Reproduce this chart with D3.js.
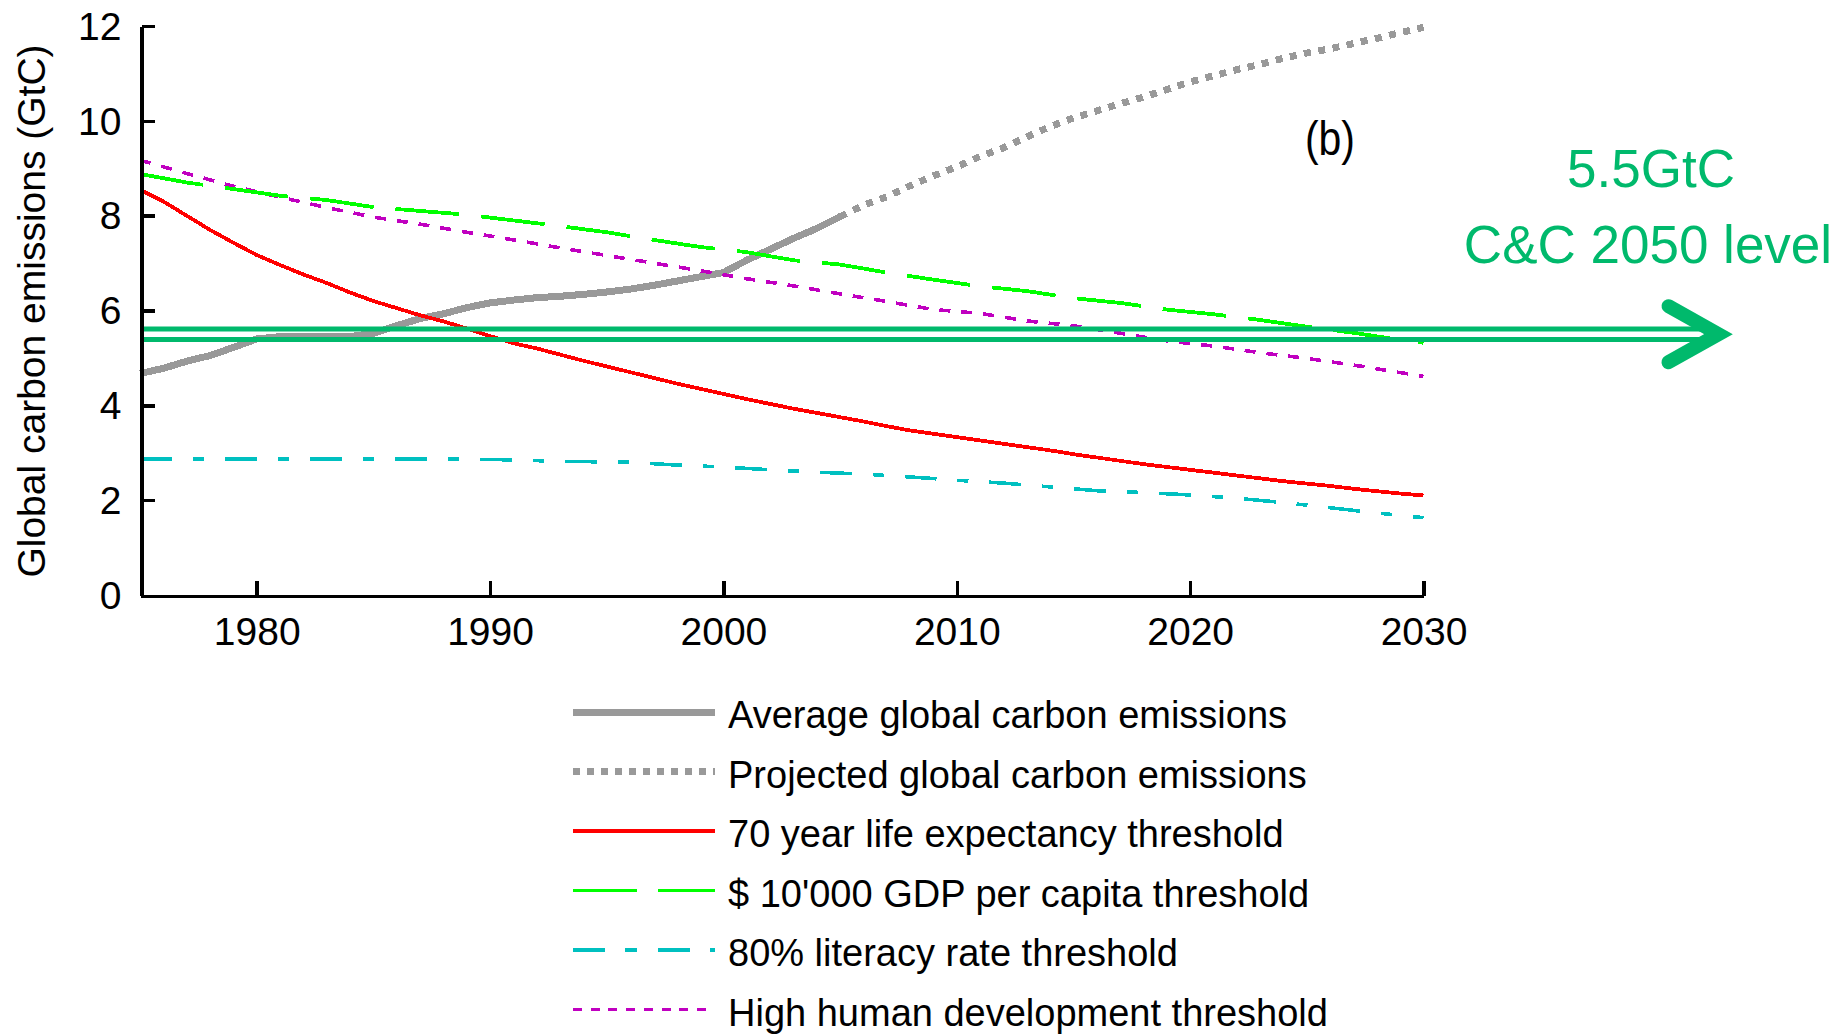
<!DOCTYPE html>
<html>
<head>
<meta charset="utf-8">
<script src="https://cdn.jsdelivr.net/npm/d3@7"></script>
<style>
  html, body { margin: 0; padding: 0; background: #ffffff; }
  svg { display: block; }
  text { font-family: "Liberation Sans", Arial, Helvetica, sans-serif; }
</style>
</head>
<body>
<svg id="chart" width="1839" height="1034"></svg>
<script>
// ---- Data (GtC per year) ----
const actualYears = [1975, 1976, 1977, 1978, 1979, 1980, 1981, 1982, 1983, 1984, 1985, 1986, 1987, 1988, 1989, 1990,
                     1991, 1992, 1993, 1994, 1995, 1996, 1997, 1998, 1999, 2000, 2001, 2002, 2003, 2004, 2005];
const actualEmissions = [4.67, 4.78, 4.93, 5.05, 5.22, 5.4, 5.45, 5.45, 5.45, 5.45, 5.52, 5.68, 5.83, 5.93, 6.06, 6.16,
                         6.22, 6.27, 6.3, 6.34, 6.39, 6.45, 6.53, 6.62, 6.71, 6.8, 7.06, 7.29, 7.52, 7.73, 7.98];

const projectedYears = [2005, 2006, 2007, 2008, 2009, 2010, 2011, 2012, 2013, 2014, 2015, 2016, 2017,
                        2018, 2019, 2020, 2021, 2022, 2023, 2024, 2025, 2026, 2027, 2028, 2029, 2030];
const projectedEmissions = [7.98, 8.22, 8.4, 8.63, 8.84, 9.03, 9.25, 9.43, 9.66, 9.88, 10.06, 10.21, 10.36,
                            10.5, 10.66, 10.82, 10.95, 11.08, 11.19, 11.32, 11.43, 11.52, 11.63, 11.74, 11.86, 11.97];

const lifeYears = [1975, 1976, 1977, 1978, 1979, 1980, 1981, 1982, 1983, 1984, 1985, 1986, 1987, 1988, 1989, 1990,
                   1991, 1992, 1993, 1994, 1995, 1996, 1997, 1998, 1999, 2000, 2001, 2002, 2003, 2004, 2005, 2006,
                   2007, 2008, 2009, 2010, 2011, 2012, 2013, 2014, 2015, 2016, 2017, 2018, 2019, 2020, 2021, 2022,
                   2023, 2024, 2025, 2026, 2027, 2028, 2029, 2030];
const lifeThreshold = [8.55, 8.3, 8.0, 7.7, 7.43, 7.17, 6.96, 6.76, 6.58, 6.38, 6.2, 6.05, 5.9, 5.77, 5.62, 5.46,
                       5.31, 5.2, 5.07, 4.94, 4.82, 4.7, 4.58, 4.46, 4.35, 4.24, 4.13, 4.03, 3.93, 3.84, 3.75, 3.66,
                       3.56, 3.47, 3.4, 3.33, 3.26, 3.19, 3.12, 3.05, 2.97, 2.9, 2.83, 2.76, 2.7, 2.64, 2.58, 2.52,
                       2.46, 2.4, 2.35, 2.3, 2.24, 2.19, 2.14, 2.1];

const gdpYears = [1975, 1977, 1979, 1981, 1983, 1985, 1987, 1989, 1991, 1993, 1995, 1997, 1999, 2001, 2003,
                  2005, 2007, 2009, 2011, 2013, 2015, 2017, 2019, 2021, 2023, 2025, 2027, 2029, 2030];
const gdpThreshold = [8.88, 8.7, 8.56, 8.42, 8.33, 8.18, 8.1, 8.02, 7.9, 7.78, 7.65, 7.49, 7.34, 7.23, 7.06,
                      6.97, 6.8, 6.65, 6.51, 6.41, 6.26, 6.16, 6.02, 5.92, 5.8, 5.66, 5.53, 5.38, 5.32];

const literacyYears = [1975, 1980, 1985, 1990, 1993, 1996, 1998, 2000, 2002, 2004, 2006, 2008,
                       2010, 2012, 2014, 2016, 2018, 2020, 2022, 2024, 2026, 2028, 2030];
const literacyThreshold = [2.87, 2.87, 2.87, 2.86, 2.82, 2.8, 2.74, 2.7, 2.64, 2.59, 2.55, 2.49,
                           2.42, 2.36, 2.28, 2.2, 2.16, 2.11, 2.04, 1.95, 1.84, 1.73, 1.63];

const hdiYears = [1975, 1977, 1979, 1981, 1983, 1985, 1987, 1989, 1991, 1993, 1995, 1997, 1999, 2001, 2003,
                  2005, 2007, 2009, 2011, 2013, 2015, 2017, 2019, 2021, 2023, 2025, 2027, 2029, 2030];
const hdiThreshold = [9.17, 8.89, 8.62, 8.39, 8.17, 7.97, 7.82, 7.65, 7.49, 7.32, 7.16, 7.0, 6.84, 6.67, 6.52,
                      6.35, 6.19, 6.02, 5.94, 5.78, 5.68, 5.52, 5.36, 5.25, 5.11, 4.99, 4.85, 4.69, 4.61];

const xTickValues = [1980, 1990, 2000, 2010, 2020, 2030];
const yTickValues = [0, 2, 4, 6, 8, 10, 12];

const legendLabels = [
  "Average global carbon emissions",
  "Projected global carbon emissions",
  "70 year life expectancy threshold",
  "$ 10'000 GDP per capita threshold",
  "80% literacy rate threshold",
  "High human development threshold"
];

// Contraction & Convergence target level (GtC)
const ccLevel = 5.5;

// ---- Styles ----
const styles = [
  { color: "#999999", width: 7,   dash: null,           legendDash: null },
  { color: "#999999", width: 7,   dash: "7,7.5",        legendDash: "7,7" },
  { color: "#ff0000", width: 3.8, dash: null,           legendDash: null },
  { color: "#00ff00", width: 3.8, dash: "64,22",        legendDash: "64,21" },
  { color: "#00c0c0", width: 3.6, dash: "32,21,11,21",  legendDash: "32,20,12,21" },
  { color: "#c000c0", width: 3.6, dash: "11,11",        legendDash: "9,8.7" }
];
const arrowColor = "#00b96c";
const fontSize = 39;
const legendFontSize = 38;

const svg = d3.select("#chart");
svg.append("rect").attr("width", 1839).attr("height", 1034).attr("fill", "#ffffff");

const x = d3.scaleLinear().domain([1975, 2030]).range([140, 1423.5]);
const y = d3.scaleLinear().domain([0, 12]).range([595, 26]);

const line = d3.line().x(d => x(d[0])).y(d => y(d[1]));

const series = [
  d3.zip(actualYears, actualEmissions),
  d3.zip(projectedYears, projectedEmissions),
  d3.zip(lifeYears, lifeThreshold),
  d3.zip(gdpYears, gdpThreshold),
  d3.zip(literacyYears, literacyThreshold),
  d3.zip(hdiYears, hdiThreshold)
];

// drawing order: grey emissions underneath, thresholds above
const drawOrder = [0, 1, 5, 3, 4, 2];
const plot = svg.append("g").attr("class", "lines");
drawOrder.forEach(i => {
  const s = styles[i];
  plot.append("path")
    .datum(series[i])
    .attr("fill", "none")
    .attr("stroke", s.color)
    .attr("stroke-width", s.width)
    .attr("stroke-dasharray", s.dash)
    .attr("stroke-linejoin", "round")
    .attr("shape-rendering", "crispEdges")
    .attr("d", line);
});

// ---- Axes ----
const yAxis = svg.append("g")
  .attr("transform", "translate(141.5,0)")
  .call(d3.axisLeft(y).tickValues(yTickValues).tickSizeInner(-13).tickSizeOuter(0)
    .tickPadding(20).tickFormat(d3.format("d")));
const xAxis = svg.append("g")
  .attr("transform", "translate(0,596)")
  .call(d3.axisBottom(x).tickValues(xTickValues).tickSizeInner(-15).tickSizeOuter(0)
    .tickPadding(21).tickFormat(d3.format("d")));

[yAxis, xAxis].forEach(g => {
  g.attr("font-family", null).attr("font-size", null);
  g.select(".domain").attr("stroke", "#000").attr("stroke-width", 3.8).attr("shape-rendering", "crispEdges");
  g.selectAll(".tick line").attr("stroke", "#000").attr("stroke-width", 3.5).attr("shape-rendering", "crispEdges");
  g.selectAll(".tick text").attr("fill", "#000").style("font-size", fontSize + "px");
});
yAxis.selectAll(".tick").filter(d => d === 0).select("line").remove();
yAxis.selectAll(".tick text").attr("dy", "0.34em");

// axis title
svg.append("text")
  .attr("transform", "translate(45,311) rotate(-90)")
  .attr("text-anchor", "middle")
  .style("font-size", fontSize + "px")
  .attr("fill", "#000")
  .text("Global carbon emissions (GtC)");

// panel tag
svg.append("text")
  .attr("x", 1305).attr("y", 155)
  .style("font-size", "48px")
  .attr("textLength", 50).attr("lengthAdjust", "spacingAndGlyphs")
  .attr("fill", "#000")
  .text("(b)");

// ---- C&C target arrow ----
const arrowY = y(ccLevel);
const shaftStart = x(1975) + 4;
const tipX = x.range()[1] + 295;
const arrow = svg.append("g").attr("class", "cc-arrow");
[-5.3, 5.3].forEach(off => {
  arrow.append("line")
    .attr("x1", shaftStart).attr("x2", tipX - 18)
    .attr("y1", arrowY + off).attr("y2", arrowY + off)
    .attr("stroke", arrowColor).attr("stroke-width", 5);
});
arrow.append("path")
  .attr("d", d3.line()([[tipX - 50, arrowY - 28], [tipX, arrowY], [tipX - 50, arrowY + 28]]))
  .attr("fill", "none")
  .attr("stroke", arrowColor)
  .attr("stroke-width", 14)
  .attr("stroke-linecap", "round")
  .attr("stroke-linejoin", "miter")
  .attr("stroke-miterlimit", 10);

svg.append("text")
  .attr("x", 1651).attr("y", 187)
  .attr("text-anchor", "middle")
  .style("font-size", "53px")
  .attr("fill", arrowColor)
  .text(`${ccLevel}GtC`);
svg.append("text")
  .attr("x", 1648).attr("y", 263)
  .attr("text-anchor", "middle")
  .style("font-size", "53px")
  .attr("fill", arrowColor)
  .text("C&C 2050 level");

// ---- Legend ----
const legend = svg.append("g").attr("class", "legend");
legendLabels.forEach((label, i) => {
  const rowY = 712 + i * 59.5;
  const s = styles[i];
  legend.append("line")
    .attr("x1", 573).attr("x2", 715)
    .attr("y1", rowY).attr("y2", rowY)
    .attr("stroke", s.color)
    .attr("stroke-width", s.width)
    .attr("stroke-dasharray", s.legendDash)
    .attr("shape-rendering", "crispEdges");
  legend.append("text")
    .attr("x", 728).attr("y", rowY + 16)
    .style("font-size", legendFontSize + "px")
    .attr("fill", "#000")
    .text(label);
});
</script>
</body>
</html>
